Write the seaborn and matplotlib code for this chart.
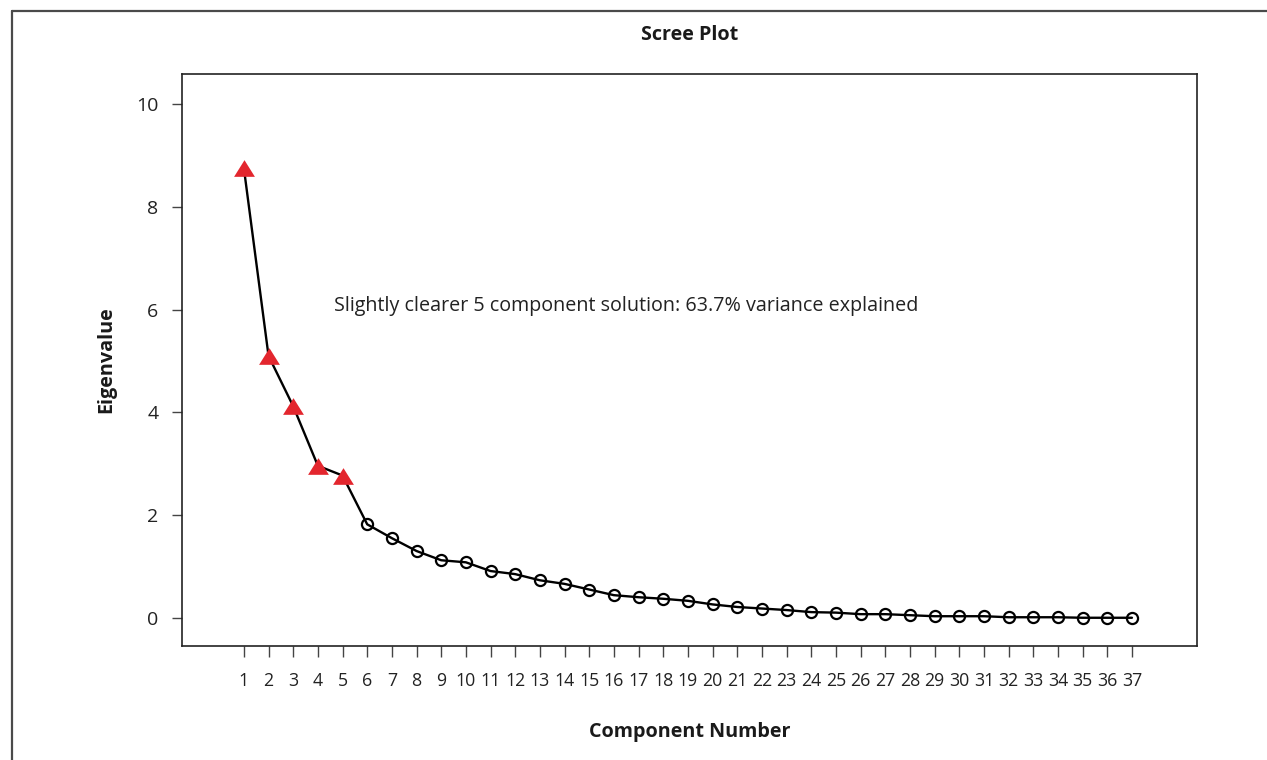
import matplotlib
matplotlib.use("Agg")
import matplotlib.pyplot as plt
from matplotlib.lines import Line2D
import seaborn as sns
import pandas as pd

# Eigenvalues
componentes = list(range(1, 38))
autovalores = [8.76, 5.10, 4.12, 2.96, 2.77, 1.82, 1.55, 1.30, 1.12, 1.08,
               0.91, 0.85, 0.73, 0.66, 0.55, 0.44, 0.40, 0.37, 0.33, 0.26,
               0.21, 0.18, 0.15, 0.11, 0.10, 0.07, 0.07, 0.05, 0.03, 0.03,
               0.03, 0.01, 0.01, 0.01, 0.00, 0.00, 0.00]
n_retidos = 5
titulo = "Scree Plot"
nota = "Slightly clearer 5 component solution: 63.7% variance explained"

df = pd.DataFrame({"Component": componentes, "Eigenvalue": autovalores})
df_ret = df.iloc[:n_retidos]
df_rest = df.iloc[n_retidos:]

sns.set_style("ticks")
plt.rcParams["font.family"] = ["Open Sans", "DejaVu Sans"]

fig = plt.figure(figsize=(12.67, 7.6), dpi=100)
ax = fig.add_axes([0.1436, 0.15, 0.8012, 0.7526])

# linha completa
sns.lineplot(data=df, x="Component", y="Eigenvalue", color="black",
             linewidth=1.7, ax=ax, zorder=2)
# circulos abertos para os componentes restantes
sns.lineplot(data=df_rest, x="Component", y="Eigenvalue", color="black",
             linestyle="none", marker="o", ms=8, mfc="none", mec="black",
             mew=1.6, ax=ax, zorder=3)
# triangulos vermelhos para os componentes retidos
tri = [(-1, -0.8), (1, -0.8), (0, 0.8), (-1, -0.8)]
sns.lineplot(data=df_ret, x="Component", y="Eigenvalue", color="#e3262e",
             linestyle="none", marker=tri, ms=15, mfc="#e3262e", mec="#e3262e",
             mew=0, ax=ax, zorder=4)

ax.set_xlim(-1.51, 39.64)
ax.set_ylim(-0.55, 10.59)
ax.set_xticks(componentes)
ax.set_xticklabels([str(c) for c in componentes], fontsize=12.8, color="#222222")
ax.set_yticks([0, 2, 4, 6, 8, 10])
ax.set_yticklabels(["0", "2", "4", "6", "8", "10"], fontsize=14, color="#222222")
ax.tick_params(axis="x", length=7.6, width=1.0, pad=11, color="#444444")
ax.tick_params(axis="y", length=7, width=1.0, pad=10, color="#444444")
for s in ax.spines.values():
    s.set_visible(True)
    s.set_linewidth(1.2)
    s.set_color("#222222")

ax.set_xlabel("Component Number", fontsize=14.2, fontweight="bold", color="#1a1a1a")
ax.set_ylabel("Eigenvalue", fontsize=14.2, fontweight="bold", color="#1a1a1a")
ax.xaxis.label.set_va("center")
ax.yaxis.label.set_va("center")
ax.xaxis.set_label_coords(0.5, -0.150)
ax.yaxis.set_label_coords(-0.0749, 0.5)

fig.text(0.5443, 0.954, titulo, ha="center", va="center", fontsize=14.2,
         fontweight="bold", color="#1a1a1a")
ax.text(4.65, 6.07, nota, ha="left", va="center", fontsize=14.2, color="#222222")

# moldura externa da figura
fig.add_artist(Line2D([11.5 / 1267, 11.5 / 1267], [0, 1 - 11 / 760],
                      transform=fig.transFigure, color="#4a4a4a", linewidth=1.6))
fig.add_artist(Line2D([11.5 / 1267, 1], [1 - 11 / 760, 1 - 11 / 760],
                      transform=fig.transFigure, color="#4a4a4a", linewidth=1.6))

fig.savefig("out.png", dpi=100)
